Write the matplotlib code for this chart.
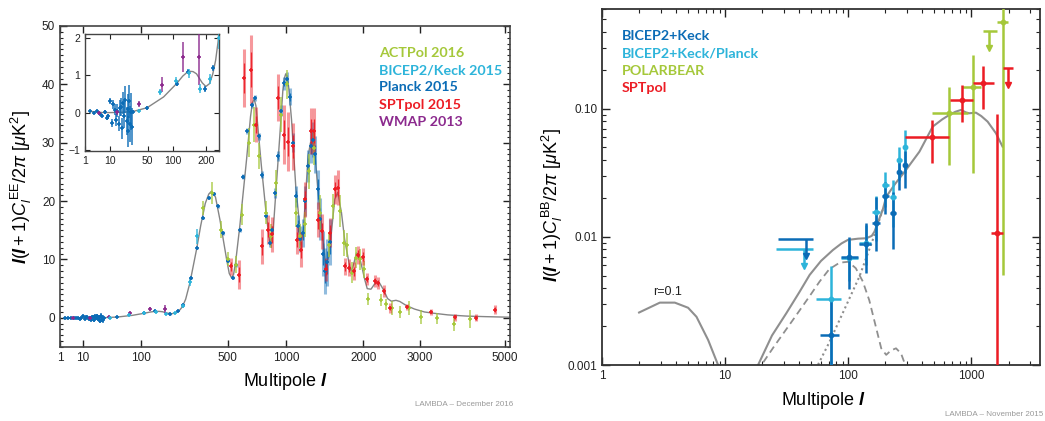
import numpy as np
import matplotlib.pyplot as plt
from matplotlib.ticker import FixedLocator, MultipleLocator, NullFormatter, LogLocator

plt.rcParams['font.family'] = ['Liberation Sans', 'DejaVu Sans']
plt.rcParams['mathtext.fontset'] = 'custom'
plt.rcParams['mathtext.rm'] = 'Liberation Sans'
plt.rcParams['mathtext.it'] = 'Liberation Sans:italic'
plt.rcParams['mathtext.bf'] = 'Liberation Sans:italic:bold'

c_act = '#a5c83a'
c_bk = '#2db4da'
c_planck = '#0b6cb6'
c_spt = '#ec1c24'
c_wmap = '#8c2a8e'
c_theory = '#858585'

# ---------------- EE data (left panel) ----------------
ee_theory_l = [2, 4, 6, 10, 20, 30, 49, 79, 109, 125, 141, 155, 166, 185, 198, 212, 224, 235, 245, 260,
               280, 313, 335, 360, 380, 396, 420, 448, 492, 510, 526, 540, 555, 586, 638, 670, 685, 700, 715, 730,
               762, 807, 838, 870, 895, 934, 965, 980, 994, 1010, 1025, 1055, 1101, 1145, 1164, 1185, 1202, 1241, 1270, 1300,
               1330, 1361, 1417, 1460, 1500, 1534, 1580, 1620, 1673, 1718, 1791, 1816, 1850, 1891, 1930, 1980, 2019, 2060, 2120, 2200,
               2260, 2330, 2400, 2466, 2550, 2620, 2743, 2900, 3100, 3274, 3600, 4024, 4500, 5150]
ee_theory_v = [0.03, 0.02, 0.0, 0.0, 0.01, 0.03, 0.13, 0.42, 0.78, 0.98, 1.11, 1.10, 1.04, 0.80, 0.70, 0.78, 1.04, 1.40, 1.9, 3.2,
               6.0, 11.7, 15.8, 19.6, 21.2, 21.7, 20.7, 16.8, 10.0, 7.6, 6.85, 7.4, 9.5, 15.7, 27.1, 34.5, 36.8, 37.5, 36.3, 33.0,
               26.0, 17.4, 12.8, 15.0, 21.4, 31.1, 39.0, 41.0, 41.8, 41.3, 39.5, 34.0, 22.5, 15.7, 13.3, 15.0, 18.5, 27.7, 30.0, 30.2,
               27.0, 21.7, 14.6, 8.8, 10.5, 14.6, 20.3, 21.5, 18.0, 13.4, 8.8, 8.0, 9.2, 11.1, 10.8, 8.5, 6.6, 5.0, 4.9, 6.1,
               6.0, 4.8, 3.3, 2.85, 3.0, 2.8, 2.1, 1.5, 1.0, 0.8, 0.5, 0.3, 0.2, 0.1]

planck_lowl_l = [2, 3, 4, 5, 6, 7, 8, 9, 10, 11, 12, 13, 14, 15, 16, 17, 18, 19, 20, 21, 22, 23, 24, 25, 26, 27, 28, 29]
planck_lowl_v = [0.03, -0.02, 0.05, -0.04, -0.08, 0.02, -0.15, -0.1, 0.3, -0.28, 0.22, 0.08, -0.2, 0.05, -0.3, 0.12,
                 0.15, -0.42, 0.25, -0.1, 0.35, -0.22, 0.1, -0.5, 0.3, -0.3, 0.02, -0.38]
planck_lowl_err = [0.02, 0.02, 0.03, 0.03, 0.04, 0.05, 0.06, 0.07, 0.08, 0.1, 0.12, 0.14, 0.16, 0.18, 0.2, 0.22,
                   0.25, 0.28, 0.3, 0.32, 0.35, 0.38, 0.4, 0.42, 0.45, 0.48, 0.5, 0.5]

planck_l = [30, 49, 109, 140, 195, 224, 250, 283, 316, 345, 380, 410, 437, 470, 500, 533, 560, 586, 612, 645,
            678, 711, 740, 768, 800, 838, 860, 885, 917, 950, 977, 1005, 1037, 1070, 1101, 1125, 1150, 1180, 1210, 1240,
            1270, 1300, 1330, 1360, 1390, 1420, 1450, 1480, 1510]
planck_v = [0.02, 0.13, 0.78, 1.10, 0.62, 1.20, 2.2, 6.8, 12.0, 17.1, 20.6, 21.3, 19.1, 14.5, 9.8, 6.9, 9.0, 15.1, 24.2, 32.0,
            36.5, 37.7, 31.1, 24.5, 17.5, 12.8, 15.0, 21.4, 27.7, 35.5, 40.2, 41.0, 37.9, 30.0, 20.8, 15.7, 13.5, 14.5, 20.0, 26.0,
            29.5, 30.5, 28.0, 22.0, 17.0, 11.0, 8.0, 9.5, 13.0]
planck_err = [0.04, 0.05, 0.06, 0.07, 0.08, 0.08, 0.1, 0.15, 0.2, 0.25, 0.3, 0.3, 0.3, 0.3, 0.3, 0.3, 0.35, 0.35, 0.4, 0.45,
              0.5, 0.55, 0.6, 0.6, 0.6, 0.7, 0.7, 0.8, 0.9, 1.0, 1.1, 1.2, 1.4, 1.6, 1.8, 2.0, 2.2, 2.4, 2.6, 2.8,
              3.0, 3.0, 3.2, 3.4, 3.6, 3.8, 4.0, 4.0, 4.0]

bk_ee_l = [37.5, 72.5, 107.5, 142.5, 177.5, 212.5, 247.5, 282.5, 317.5]
bk_ee_v = [0.05, 0.55, 0.85, 1.06, 0.64, 0.91, 2.0, 6.2, 14.0]
bk_ee_err = [0.03, 0.07, 0.1, 0.12, 0.12, 0.13, 0.3, 0.7, 1.3]

wmap_l = [4.5, 15, 37, 75, 125, 175]
wmap_v = [0.0, 0.02, 0.22, 0.75, 1.5, 1.5]
wmap_err = [0.05, 0.08, 0.08, 0.2, 0.4, 0.75]

act_l = [348, 400, 452, 500, 560, 600, 655, 700, 745, 800, 850, 895, 950, 1010, 1100, 1150, 1200, 1250, 1310, 1390,
         1500, 1560, 1650, 1710, 1750, 1830, 1890, 1940, 2010, 2080, 2280, 2370, 2470, 2620, 2800, 3035, 3370, 3729, 4119]
act_v = [18.8, 21.4, 15.1, 10.0, 9.1, 17.7, 30.0, 33.1, 27.7, 18.0, 14.0, 23.1, 34.8, 40.0, 18.0, 14.0, 16.0, 25.1, 29.1, 18.0,
         12.5, 19.1, 18.3, 12.8, 12.5, 7.7, 10.3, 10.0, 8.3, 3.2, 3.0, 2.3, 1.7, 1.0, 1.7, 0.2, -0.1, -1.1, -0.2]
act_err = [1.2, 1.9, 1.5, 1.2, 1.5, 1.8, 2.5, 3.0, 2.2, 2.0, 2.0, 2.2, 3.0, 2.5, 2.5, 2.0, 2.2, 3.0, 3.0, 3.0,
           2.0, 2.2, 2.8, 2.2, 2.0, 1.8, 1.8, 1.8, 1.5, 1.0, 1.0, 1.0, 1.2, 1.0, 1.2, 1.2, 1.0, 1.2, 1.5]

spt_l = [520, 580, 620, 670, 715, 770, 820, 860, 920, 975, 1020, 1070, 1120, 1165, 1200, 1270, 1310, 1360, 1410, 1460,
         1520, 1580, 1630, 1720, 1780, 1850, 1920, 1990, 2050, 2180, 2240, 2340, 2450, 2760, 3242, 3750, 4250, 4751]
spt_v = [8.8, 7.4, 41.1, 42.5, 33.1, 12.3, 15.1, 14.3, 37.7, 31.4, 30.2, 29.4, 13.4, 11.7, 20.3, 32.0, 32.0, 16.8, 14.8, 8.3,
         14.6, 22.0, 22.3, 8.8, 8.6, 8.0, 10.8, 10.5, 6.6, 6.3, 6.0, 4.6, 1.7, 1.9, 1.0, 0.1, 0.0, 1.4]
spt_err = [1.5, 2.5, 5.0, 6.0, 3.0, 3.0, 2.5, 3.0, 4.0, 5.0, 5.0, 4.0, 2.5, 3.0, 3.0, 4.0, 4.0, 3.0, 3.0, 2.0,
           2.5, 2.5, 3.0, 1.5, 1.5, 1.5, 1.5, 1.5, 1.0, 1.0, 1.0, 1.0, 0.8, 0.5, 0.5, 0.6, 0.6, 0.8]

ee_ticks = [1, 10, 100, 500, 1000, 2000, 3000, 5000]
inset_ticks = [1, 10, 50, 100, 200]

# ---------------- BB data (right panel) ----------------
bb_total_l = [2, 2.95, 3.9, 5.0, 5.85, 7.27, 8.76, 12, 15, 18.5, 24, 31.4, 40, 48.5, 60, 75, 88, 99, 120, 140,
              155, 163, 175, 190, 203, 240, 294, 378, 484, 580, 661, 740, 822, 900, 960, 1087, 1200, 1352, 1579, 1787]
bb_total_v = [0.00257, 0.00307, 0.00307, 0.0028, 0.00238, 0.00157, 0.001, 0.0004, 0.0005, 0.001,
              0.0017, 0.00254, 0.0037, 0.00505, 0.0065, 0.00791, 0.0089, 0.00948, 0.0097, 0.00977,
              0.0102, 0.011, 0.0132, 0.01625, 0.0206, 0.026, 0.0334, 0.0464, 0.0727, 0.083,
              0.0898, 0.095, 0.0982, 0.094, 0.0925, 0.0935, 0.088, 0.0796, 0.0646, 0.0508]
bb_tensor_l = [15, 19.7, 25, 35.5, 48, 58.4, 70, 85, 100, 115, 131, 148, 165, 185, 203, 222, 244, 268, 290, 320]
bb_tensor_v = [0.0006, 0.001, 0.0014, 0.00225, 0.0034, 0.00448, 0.0056, 0.0063, 0.0064, 0.0057,
               0.0045, 0.0032, 0.0021, 0.00135, 0.0012, 0.0013, 0.00135, 0.00123, 0.001, 0.0006]
bb_lens_l = [45, 56.6, 70, 90, 123, 158, 190]
bb_lens_v = [0.0006, 0.001, 0.0015, 0.00254, 0.0049, 0.0095, 0.0163]

bk_bb_l = [72, 102, 138, 168, 200, 230, 260, 290]
bk_bb_lmin = [58.5, 87, 121, 155, 188, 218, 248, 278]
bk_bb_lmax = [84, 119, 153, 182, 212, 243, 272, 302]
bk_bb_v = [0.0017, 0.0070, 0.0088, 0.0129, 0.0209, 0.0153, 0.0324, 0.0365]
bk_bb_lo = [0.0008, 0.0039, 0.0052, 0.0077, 0.0152, 0.0081, 0.0233, 0.024]
bk_bb_hi = [0.0032, 0.0100, 0.0128, 0.0207, 0.0270, 0.0225, 0.0410, 0.047]

bkp_bb_lmin = [54.4, 87, 121, 155, 188, 218, 248, 278]
bkp_bb_lmax = [87.4, 119, 153, 182, 212, 243, 272, 302]
bkp_bb_v = [0.0033, 0.0068, 0.0090, 0.0158, 0.0255, 0.0206, 0.0400, 0.0508]
bkp_bb_lo = [0.0008, 0.0045, 0.0060, 0.0093, 0.0170, 0.0120, 0.0280, 0.0314]
bkp_bb_hi = [0.0059, 0.0095, 0.0125, 0.0210, 0.0320, 0.0280, 0.0500, 0.0680]

pb_l = [661, 1035, 1787]
pb_lmin = [478, 837, 1620]
pb_lmax = [929, 1200, 1970]
pb_v = [0.0925, 0.148, 0.481]
pb_lo = [0.0365, 0.0314, 0.00505]
pb_hi = [0.148, 0.264, 0.9]

sptbb_l = [475, 837, 1230, 1620]
sptbb_lmin = [291, 670, 1035, 1440]
sptbb_lmax = [661, 1035, 1520, 1787]
sptbb_v = [0.0608, 0.1175, 0.159, 0.0108]
sptbb_lo = [0.0381, 0.0796, 0.0993, 0.0005]
sptbb_hi = [0.082, 0.154, 0.217, 0.091]

# upper limits: (l, lmin, lmax, 95% limit)
bk_lim = (45, 26.8, 51.6, 0.0096)
bkp_lim = (43.6, 26, 51.6, 0.00806)
pb_lim = (1400, 1230, 1597, 0.407)
spt_lim = (1970, 1790, 2170, 0.208)


def fwd(x):
    x = np.asarray(x, dtype=float)
    return np.sign(x) * np.abs(x) ** 0.4


def inv(y):
    y = np.asarray(y, dtype=float)
    return np.sign(y) * np.abs(y) ** 2.5


def ee_points(ax, l, v, err, color, lw=1.2, alpha=0.85, shade=False):
    l = np.asarray(l); v = np.asarray(v); err = np.asarray(err)
    if shade:
        ax.vlines(l, v - err, v + err, color=color, lw=2.2, alpha=0.45, zorder=3)
        ax.vlines(l, v - err * 0.5, v + err * 0.5, color=color, lw=0.9, alpha=0.9, zorder=3)
    else:
        ax.vlines(l, v - err, v + err, color=color, lw=lw, alpha=alpha, zorder=3)
    ax.plot(l, v, '+', color=color, ms=3.2, mew=1.2, zorder=4)


def bb_points(ax, l, lmin, lmax, v, lo, hi, color, lw=1.8):
    ax.hlines(v, lmin, lmax, color=color, lw=lw, zorder=3)
    ax.vlines(l, lo, hi, color=color, lw=lw, zorder=3)
    ax.plot(l, v, 'o', color=color, ms=3.2, zorder=4)


def bb_limit(ax, lim, color, lw=1.8):
    l, lmin, lmax, v = lim
    ax.hlines(v, lmin, lmax, color=color, lw=lw, zorder=3)
    ax.vlines(l, v * 0.74, v, color=color, lw=lw, zorder=3)
    ax.plot(l, v * 0.74, 'v', color=color, ms=5, zorder=4)


fig = plt.figure(figsize=(10.45, 4.21), dpi=100)

# ---------------- left: EE ----------------
ax = fig.add_axes([60 / 1045, 1 - 347 / 421, 450 / 1045, 321 / 421])
ax.set_xscale('function', functions=(fwd, inv))
ax.plot(ee_theory_l, ee_theory_v, color=c_theory, lw=1.0, zorder=2)
ee_points(ax, planck_lowl_l, planck_lowl_v, planck_lowl_err, c_planck)
ee_points(ax, planck_l, planck_v, planck_err, c_planck, shade=True)
ee_points(ax, wmap_l, wmap_v, wmap_err, c_wmap)
ee_points(ax, bk_ee_l, bk_ee_v, bk_ee_err, c_bk)
ee_points(ax, act_l, act_v, act_err, c_act, alpha=0.8)
ee_points(ax, spt_l, spt_v, spt_err, c_spt, shade=True)
ax.set_xlim(1, 5150)
ax.set_ylim(-5, 50)
ax.xaxis.set_major_locator(FixedLocator(ee_ticks))
ax.set_xticklabels([str(t) for t in ee_ticks])
ax.yaxis.set_major_locator(MultipleLocator(10))
ax.yaxis.set_minor_locator(MultipleLocator(1))
ax.tick_params(which='both', direction='in', top=True, right=True, labelsize=8.5, colors='#222')
ax.tick_params(which='major', length=5, width=1.0)
ax.tick_params(which='minor', length=2.5, width=0.8)
for s in ax.spines.values():
    s.set_color('#444')
    s.set_linewidth(1.2)
ax.set_ylabel(r'$\mathbf{l}(\mathbf{l}+1)C_{\mathit{l}}^{\,\rm EE}/2\pi\ [\mu{\rm K}^2]$', fontsize=13)
ax.yaxis.set_label_coords(-0.058, 0.5)
ax.set_xlabel(r'Multipole $\mathbf{l}$', fontsize=13)
ax.xaxis.set_label_coords(0.5, -0.075)

labels_ee = [('ACTPol 2016', c_act), ('BICEP2/Keck 2015', c_bk), ('Planck 2015', c_planck),
             ('SPTpol 2015', c_spt), ('WMAP 2013', c_wmap)]
for i, (txt, col) in enumerate(labels_ee):
    fig.text(379 / 1045, 1 - (53 + 17.2 * i) / 421, txt, color=col, fontsize=10.3,
             fontweight='bold', family='Lato', va='center', ha='left')

# inset
axi = fig.add_axes([85 / 1045, 1 - 151 / 421, 134.3 / 1045, 116.7 / 421])
axi.set_xscale('function', functions=(fwd, inv))
axi.plot(ee_theory_l, ee_theory_v, color=c_theory, lw=1.0, zorder=2)
ee_points(axi, planck_lowl_l, planck_lowl_v, planck_lowl_err, c_planck)
ee_points(axi, planck_l[:7], planck_v[:7], planck_err[:7], c_planck)
ee_points(axi, wmap_l, wmap_v, wmap_err, c_wmap)
ee_points(axi, bk_ee_l, bk_ee_v, bk_ee_err, c_bk)
axi.set_xlim(1, 250)
axi.set_ylim(-1.03, 2.1)
axi.xaxis.set_major_locator(FixedLocator(inset_ticks))
axi.set_xticklabels([str(t) for t in inset_ticks])
axi.yaxis.set_major_locator(FixedLocator([-1, 0, 1, 2]))
axi.tick_params(which='both', direction='in', top=True, right=True, labelsize=7.5, length=3.5, colors='#222')
for s in axi.spines.values():
    s.set_color('#444')
    s.set_linewidth(1.0)

fig.text(513 / 1045, 1 - 405 / 421, 'LAMBDA \u2013 December 2016', fontsize=5.8, color='#999',
         ha='right', va='center')

# ---------------- right: BB ----------------
axb = fig.add_axes([602 / 1045, 1 - 365 / 421, 438 / 1045, 355.7 / 421])
axb.set_xscale('log')
axb.set_yscale('log')
axb.plot(bb_total_l, bb_total_v, color='#8f8f8f', lw=1.5, zorder=2)
axb.plot(bb_tensor_l, bb_tensor_v, color='#8f8f8f', lw=1.3, ls=(0, (4, 2.5)), zorder=2)
axb.plot(bb_lens_l, bb_lens_v, color='#8f8f8f', lw=1.5, ls=(0, (1, 1.5)), zorder=2)
bb_limit(axb, bkp_lim, c_bk)
bb_limit(axb, bk_lim, c_planck)
bb_points(axb, bk_bb_l, bkp_bb_lmin, bkp_bb_lmax, bkp_bb_v, bkp_bb_lo, bkp_bb_hi, c_bk)
bb_points(axb, bk_bb_l, bk_bb_lmin, bk_bb_lmax, bk_bb_v, bk_bb_lo, bk_bb_hi, c_planck)
bb_points(axb, pb_l, pb_lmin, pb_lmax, pb_v, pb_lo, pb_hi, c_act)
bb_limit(axb, pb_lim, c_act)
bb_points(axb, sptbb_l, sptbb_lmin, sptbb_lmax, sptbb_v, sptbb_lo, sptbb_hi, c_spt)
bb_limit(axb, spt_lim, c_spt)
axb.text(3.43, 0.0037, 'r=0.1', fontsize=9, ha='center', va='center', color='#222')
axb.set_xlim(1, 3600)
axb.set_ylim(0.001, 0.6)
axb.xaxis.set_major_locator(FixedLocator([1, 10, 100, 1000]))
axb.set_xticklabels(['1', '10', '100', '1000'])
axb.xaxis.set_minor_locator(LogLocator(base=10, subs=np.arange(2, 10), numticks=20))
axb.xaxis.set_minor_formatter(NullFormatter())
axb.yaxis.set_major_locator(FixedLocator([0.001, 0.01, 0.1]))
axb.set_yticklabels(['0.001', '0.01', '0.10'])
axb.yaxis.set_minor_locator(LogLocator(base=10, subs=np.arange(2, 10), numticks=20))
axb.yaxis.set_minor_formatter(NullFormatter())
axb.tick_params(which='both', direction='in', top=True, right=True, labelsize=8.5, colors='#222')
axb.tick_params(which='major', length=6, width=1.0)
axb.tick_params(which='minor', length=3, width=0.8)
for s in axb.spines.values():
    s.set_color('#333')
    s.set_linewidth(1.3)
axb.set_ylabel(r'$\mathbf{l}(\mathbf{l}+1)C_{\mathit{l}}^{\,\rm BB}/2\pi\ [\mu{\rm K}^2]$', fontsize=13)
axb.yaxis.set_label_coords(-0.085, 0.45)
axb.set_xlabel(r'Multipole $\mathbf{l}$', fontsize=13)
axb.xaxis.set_label_coords(0.505, -0.07)

labels_bb = [('BICEP2+Keck', c_planck), ('BICEP2+Keck/Planck', c_bk), ('POLARBEAR', c_act), ('SPTpol', c_spt)]
for i, (txt, col) in enumerate(labels_bb):
    fig.text(621.7 / 1045, 1 - (36 + 17.4 * i) / 421, txt, color=col, fontsize=10.3,
             fontweight='bold', family='Lato', va='center', ha='left')

fig.text(1043 / 1045, 1 - 415 / 421, 'LAMBDA \u2013 November 2015', fontsize=5.8, color='#999',
         ha='right', va='center')

fig.savefig('out.png', dpi=100)
